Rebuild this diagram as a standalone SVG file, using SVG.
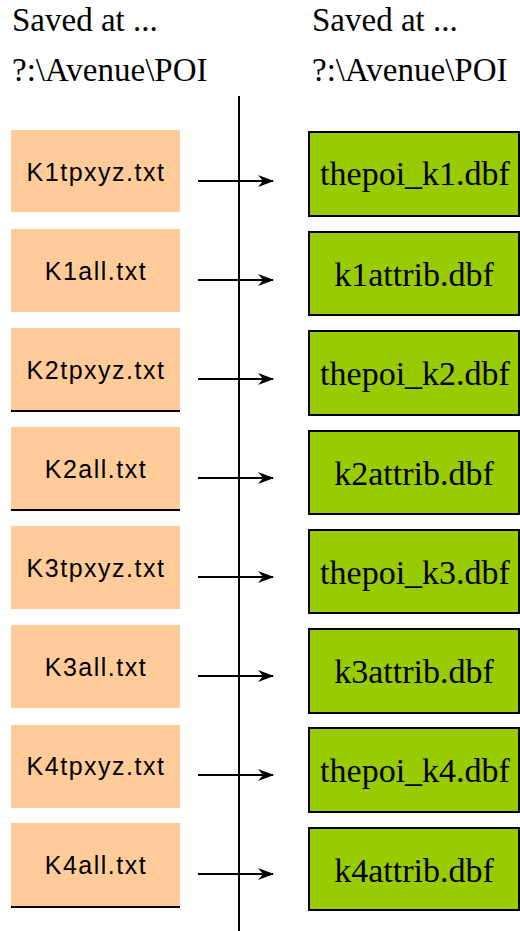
<svg xmlns="http://www.w3.org/2000/svg" width="520" height="931" viewBox="0 0 520 931">
<defs>
<style>
.hdr{font-family:"Liberation Serif","Times New Roman",serif;font-size:33px;fill:#000}
.src rect{fill:#FFCC99}
.src text{font-family:"Liberation Sans",Arial,sans-serif;font-size:25px;letter-spacing:1.5px;fill:#000;text-anchor:middle}
.dst rect{fill:#99CC00;stroke:#000;stroke-width:2}
.dst text{font-family:"Liberation Serif","Times New Roman",serif;font-size:34px;fill:#000;text-anchor:middle}
.conn line{stroke:#000;stroke-width:2}
.uline{stroke:#000;stroke-width:2}
</style>
<marker id="ah" markerWidth="16" markerHeight="12" viewBox="0 0 16 12" refX="15" refY="6" orient="auto" markerUnits="userSpaceOnUse">
<path d="M0,0 L16,6 L0,12 L5,6 Z" fill="#000"/>
</marker>
</defs>
<rect width="520" height="931" fill="#fff"/>
<g id="headers">
<text class="hdr" x="12" y="31">Saved at ...</text>
<text class="hdr" x="12" y="81">?:\Avenue\POI</text>
<text class="hdr" x="312" y="31">Saved at ...</text>
<text class="hdr" x="312" y="81">?:\Avenue\POI</text>
</g>
<g id="left-nodes" class="src">
<g id="n-k1tpxyz"><rect x="11" y="130" width="169" height="82"/><text x="96" y="181">K1tpxyz.txt</text></g>
<g id="n-k1all"><rect x="11" y="229" width="169" height="83"/><text x="96" y="280">K1all.txt</text></g>
<g id="n-k2tpxyz"><rect x="11" y="328" width="169" height="83"/><line class="uline" x1="11" y1="411" x2="180" y2="411"/><text x="96" y="379">K2tpxyz.txt</text></g>
<g id="n-k2all"><rect x="11" y="427" width="169" height="83"/><line class="uline" x1="11" y1="510" x2="180" y2="510"/><text x="96" y="478">K2all.txt</text></g>
<g id="n-k3tpxyz"><rect x="11" y="526" width="169" height="83"/><text x="96" y="577">K3tpxyz.txt</text></g>
<g id="n-k3all"><rect x="11" y="625" width="169" height="83"/><text x="96" y="676">K3all.txt</text></g>
<g id="n-k4tpxyz"><rect x="11" y="725" width="169" height="83"/><text x="96" y="775">K4tpxyz.txt</text></g>
<g id="n-k4all"><rect x="11" y="823" width="169" height="84"/><line class="uline" x1="11" y1="907" x2="180" y2="907"/><text x="96" y="874">K4all.txt</text></g>
</g>
<g id="right-nodes" class="dst">
<g id="n-thepoi_k1"><rect x="309" y="132" width="210" height="84"/><text x="415" y="185">thepoi_k1.dbf</text></g>
<g id="n-k1attrib"><rect x="309" y="232" width="210" height="83"/><text x="414" y="286">k1attrib.dbf</text></g>
<g id="n-thepoi_k2"><rect x="309" y="331" width="210" height="84"/><text x="415" y="385">thepoi_k2.dbf</text></g>
<g id="n-k2attrib"><rect x="309" y="431" width="210" height="83"/><text x="414" y="485">k2attrib.dbf</text></g>
<g id="n-thepoi_k3"><rect x="309" y="530" width="210" height="83"/><text x="415" y="584">thepoi_k3.dbf</text></g>
<g id="n-k3attrib"><rect x="309" y="629" width="210" height="84"/><text x="414" y="683">k3attrib.dbf</text></g>
<g id="n-thepoi_k4"><rect x="309" y="728" width="210" height="84"/><text x="415" y="782">thepoi_k4.dbf</text></g>
<g id="n-k4attrib"><rect x="309" y="828" width="210" height="82"/><text x="414" y="882">k4attrib.dbf</text></g>
</g>
<g id="connectors" class="conn">
<line x1="239" y1="96" x2="239" y2="931"/>
<line x1="198" y1="181" x2="273" y2="181" marker-end="url(#ah)"/>
<line x1="198" y1="280" x2="273" y2="280" marker-end="url(#ah)"/>
<line x1="198" y1="379" x2="273" y2="379" marker-end="url(#ah)"/>
<line x1="198" y1="478" x2="273" y2="478" marker-end="url(#ah)"/>
<line x1="198" y1="577" x2="273" y2="577" marker-end="url(#ah)"/>
<line x1="198" y1="676" x2="273" y2="676" marker-end="url(#ah)"/>
<line x1="198" y1="775" x2="273" y2="775" marker-end="url(#ah)"/>
<line x1="198" y1="874" x2="273" y2="874" marker-end="url(#ah)"/>
</g>
</svg>
